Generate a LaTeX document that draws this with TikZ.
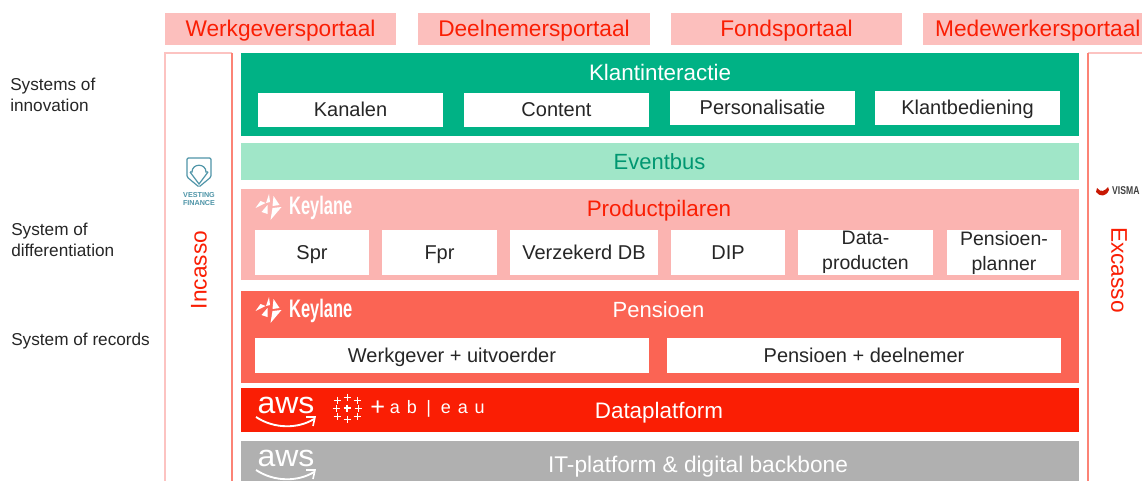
\documentclass[tikz,border=0pt]{standalone}
\usepackage{fontspec}
\setmainfont{Liberation Sans}
\definecolor{pk}{HTML}{FBB4B1}
\definecolor{gr}{HTML}{00B285}
\definecolor{lg}{HTML}{A0E6C8}
\definecolor{cor}{HTML}{FB6454}
\definecolor{rd}{HTML}{FA1E04}
\definecolor{gy}{HTML}{B0B0B0}
\definecolor{tl}{HTML}{4F95A8}
\tikzset{
 x=0.75pt,y=-0.75pt,
 wb/.style={fill=white,draw=none,inner sep=0,outer sep=0,align=center,text=black!85,text height=10.5pt,text depth=.5pt,font=\fontsize{15}{18.75}\selectfont},
 wbtwo/.style={fill=white,draw=none,inner sep=0,outer sep=0,align=center,text=black!85,font=\fontsize{14.6}{18.75}\selectfont},
 portal/.style={fill=pk!85,draw=none,inner sep=0,outer sep=0,text=rd,text height=12pt,text depth=0pt,font=\fontsize{17}{19}\selectfont},
 lab/.style={anchor=north west,inner sep=0,align=left,text=black!85,font=\fontsize{12.9}{15.4}\selectfont},
 vert/.style={text=rd,inner sep=0,font=\fontsize{17}{20}\selectfont},
 head/.style={inner sep=0,text height=11.5pt,text depth=0pt,font=\fontsize{16.8}{18}\selectfont},
}
% box from (x1,y1) to (x2,y2) in reference pixels
\newcommand{\bx}[7]{\node[#1,minimum width=#5*0.75pt-#3*0.75pt,minimum height=#6*0.75pt-#4*0.75pt] (#2) at ({(#3+#5)/2},{(#4+#6)/2}) {#7};}
\newcommand{\keylane}[3]{%
 \begin{scope}[shift={(#1,#2)}]
  \fill[white] (1,-2) -- (-5,5) -- (1,7) -- cycle;
  \fill[white] (2.5,-13) -- (3.5,-5) -- (-.5,-4) -- cycle;
  \fill[white] (7,-11) -- (13,-2) -- (6,-1) -- cycle;
  \fill[white] (6,1) -- (15,0) -- (4,13) -- cycle;
  \fill[white] (-6,-6) -- (-1,-4) -- (-11,1) -- cycle;
  \node[#3,anchor=west,text=white,inner sep=0,font=\bfseries\fontsize{19}{21}\selectfont,xscale=.65] at (22.5,1) {Keylane};
 \end{scope}}
\newcommand{\awslogo}[2]{%
 \begin{scope}[shift={(#1,#2)}]
  \node[anchor=center,text=white,inner sep=0,font=\fontsize{24}{26}\selectfont,yscale=.95] at (30,0) {aws};
  \draw[white,line width=1.4pt] (0,12) .. controls (18,24) and (42,24) .. (58,14);
  \draw[white,line width=1.2pt] (50,12) -- (59,12) -- (57,21);
 \end{scope}}
\newcommand{\plusat}[4][1]{\draw[white,line width=#4] (#2-3.5,#3) -- (#2+3.5,#3) (#2,#3-3.5) -- (#2,#3+3.5);}
\newcommand{\tbl}[1]{\makebox[12.75pt][c]{#1}}
\begin{document}
\begin{tikzpicture}
\useasboundingbox (0,0) rectangle (1142,481);
\fill[white] (0,0) rectangle (1142,481);
% portals
\bx{portal}{p1}{165}{13}{396}{45}{Werkgeversportaal}
\bx{portal}{p2}{418}{13}{650}{45}{Deelnemersportaal}
\bx{portal}{p3}{671}{13}{902}{45}{Fondsportaal}
\bx{portal}{p4}{923}{13}{1142}{45}{\hspace*{8pt}Medewerkersportaal}
% side columns
\draw[pk!80,line width=.9pt] (165,482) -- (165,53) -- (232,53);
\draw[cor!80,line width=.8pt] (232,53) -- (232,482);
\draw[pk!80,line width=.9pt] (1142,53) -- (1088,53);
\draw[cor!80,line width=.8pt] (1088,53) -- (1088,482);
\node[vert,rotate=90] (inc) at (199,270) {Incasso};
\node[vert,rotate=-90] (exc) at (1119,270) {Excasso};
% row labels
\node[lab] (l1) at (10,78) {Systems of\\innovation};
\node[lab] (l2) at (11,223) {System of\\differentiation};
\node[lab] (l3) at (11,333) {System of records};
% Klantinteractie
\bx{fill=gr,inner sep=0,outer sep=0}{k}{241}{53}{1079}{136}{}
\node[head,text=white] (kt) at (660,72.5) {Klantinteractie};
\bx{wb}{k1}{258}{93}{443}{127}{Kanalen}
\bx{wb}{k2}{464}{93}{649}{127}{Content}
\bx{wb}{k3}{670}{91}{855}{125}{Personalisatie}
\bx{wb}{k4}{875}{91}{1060}{125}{Klantbediening}
% Eventbus
\bx{fill=lg,inner sep=0,outer sep=0}{e}{241}{143}{1079}{180}{}
\node[head,text=gr!85!black,font=\fontsize{16.5}{18}\selectfont] (et) at (659.5,162) {Eventbus};
% Productpilaren
\bx{fill=pk,inner sep=0,outer sep=0}{pp}{241}{189}{1079}{280}{}
\keylane{266.5}{207}{}
\node[head,text=rd] (ppt) at (659,208.5) {Productpilaren};
\bx{wb}{s1}{255}{230}{369}{275}{Spr}
\bx{wb}{s2}{382}{230}{497}{275}{Fpr}
\bx{wb}{s3}{510}{230}{658}{275}{Verzekerd DB}
\bx{wb}{s4}{671}{230}{785}{275}{DIP}
\bx{wbtwo}{s5}{798}{230}{933}{275}{Data-\\producten}
\bx{wbtwo}{s6}{947}{230}{1061}{275}{Pensioen-\\planner}
% Pensioen
\bx{fill=cor,inner sep=0,outer sep=0}{pn}{241}{291}{1079}{383}{}
\keylane{266.5}{310}{}
\node[head,text=white,font=\fontsize{16.5}{18}\selectfont] (pnt) at (658.5,310) {Pensioen};
\bx{wb}{w1}{255}{338}{649}{373}{Werkgever + uitvoerder}
\bx{wb}{w2}{667}{338}{1061}{373}{Pensioen + deelnemer}
% Dataplatform
\bx{fill=rd,inner sep=0,outer sep=0}{d}{241}{388}{1079}{432}{}
\node[head,text=white] (dt) at (659,411) {Dataplatform};
\awslogo{256}{405}
\plusat{347}{408}{1pt}
\plusat{337}{400}{.7pt}\plusat{347}{397}{.7pt}\plusat{357}{400}{.7pt}
\plusat{337}{416}{.7pt}\plusat{347}{419}{.7pt}\plusat{357}{416}{.7pt}
\plusat{336}{408}{.6pt}\plusat{358}{408}{.6pt}
\node[anchor=west,text=white,inner sep=0,font=\fontsize{13.5}{15}\selectfont] (tb) at (369,409) {\tbl{\raisebox{-1pt}{\fontsize{19}{19}\selectfont +}}\tbl{a}\tbl{b}\tbl{|}\tbl{e}\tbl{a}\tbl{u}};
% IT
\bx{fill=gy,inner sep=0,outer sep=0}{it}{241}{441}{1079}{482}{}
\node[head,text=white,font=\fontsize{17}{18}\selectfont] (itt) at (698,465) {IT-platform \& digital backbone};
\begin{scope}
\clip (241,441) rectangle (1079,481);
\awslogo{256}{458}
\end{scope}
% vesting finance logo
\draw[tl,line width=.9pt,rounded corners=1pt] (187,158) -- (211,158) -- (211,177) -- (199,187) -- (187,177) -- cycle;
\draw[tl,line width=.9pt] (190,172) -- (192,172) .. controls (192,163) and (206,163) .. (206,172) -- (208,172);
\draw[tl,line width=.9pt] (190,172) -- (199,184) -- (208,172);
\node[text=tl,inner sep=0,align=center,font=\bfseries\fontsize{5.4}{6.4}\selectfont] (vf) at (199,199) {VESTING\\FINANCE};
% visma logo
\fill[rd!80!black] (1097,188) .. controls (1101,193) and (1105,191) .. (1108,187) -- (1109,190) .. controls (1106,197) and (1100,197) .. (1096,192) -- cycle;
\node[anchor=west,text=black!75,inner sep=0,font=\bfseries\fontsize{8.5}{9}\selectfont,xscale=.76] (vi) at (1112,191) {VISMA};
\end{tikzpicture}
\end{document}
